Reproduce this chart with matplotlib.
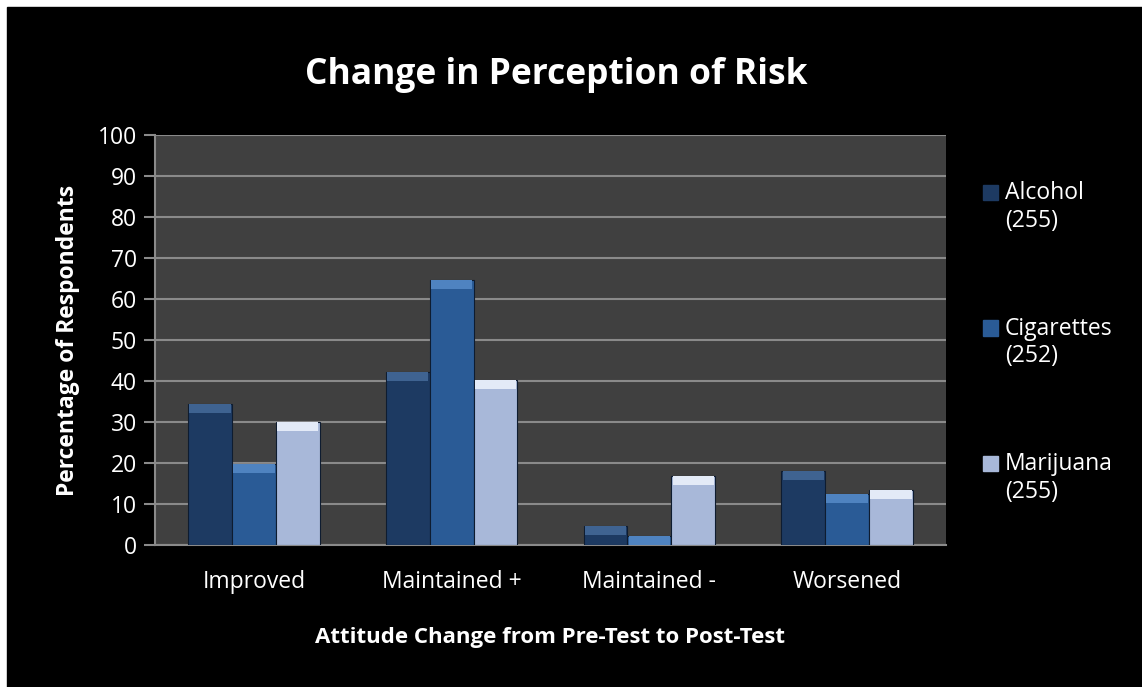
import numpy as np
import matplotlib
matplotlib.use("Agg")
import matplotlib.pyplot as plt
from matplotlib.patches import Rectangle

plt.rcParams['font.family'] = ['Open Sans', 'DejaVu Sans']

categories = ["Improved", "Maintained +", "Maintained -", "Worsened"]
series = ["Alcohol\n(255)", "Cigarettes\n(252)", "Marijuana\n(255)"]
alcohol = [34.3, 42.2, 4.7, 18.0]
cigarettes = [19.8, 64.6, 2.3, 12.4]
marijuana = [30.0, 40.2, 16.8, 13.3]

colors = ["#1d3a62", "#2a5b96", "#a8b8d9"]
tops = ["#3f6391", "#4f83c0", "#e3eaf7"]

fig = plt.figure(figsize=(11.42, 6.87), dpi=100, facecolor="white")
# black panel, white strip only at left and top
fig.patches.append(Rectangle((7 / 1142, 0), 1, (687 - 7) / 687,
                             transform=fig.transFigure, color="black", zorder=-10))

ax = fig.add_axes([155 / 1142, 1 - 545 / 687, 791 / 1142, 410 / 687])
ax.set_facecolor("#404040")

x = np.arange(len(categories))
w = 0.222
data = [alcohol, cigarettes, marijuana]
for i, vals in enumerate(data):
    pos = x + (i - 1) * w
    ax.bar(pos, vals, w, color=colors[i], edgecolor="#0e1c30", linewidth=0.8, zorder=3)
    # bevel highlight on top of each bar
    bev = [min(2.2, v) for v in vals]
    ax.bar(pos, bev, w * 0.94, bottom=np.array(vals) - np.array(bev),
           color=tops[i], linewidth=0, zorder=4)

ax.set_xlim(-0.5, 3.5)
ax.set_ylim(0, 100)
ax.set_yticks(range(0, 101, 10))
ax.yaxis.grid(True, color="#8a8a8a", linewidth=1.5, zorder=1)
ax.set_axisbelow(True)
ax.set_xticks(x)
ax.set_xticklabels(categories)
ax.tick_params(axis="x", length=0, pad=18, labelsize=16.5, labelcolor="white")
ax.tick_params(axis="y", length=8, width=1.5, color="#8a8a8a", pad=5,
               labelsize=16.5, labelcolor="white")
for s in ["top", "right"]:
    ax.spines[s].set_visible(False)
for s in ["left", "bottom"]:
    ax.spines[s].set_color("#8a8a8a")
    ax.spines[s].set_linewidth(1.5)

ax.set_ylabel("Percentage of Respondents", fontsize=16.5, fontweight="bold",
              color="white", labelpad=13)
fig.text(550 / 1142, 1 - 638 / 687, "Attitude Change from Pre-Test to Post-Test",
         ha="center", va="center", fontsize=16, fontweight="bold", color="white")
fig.text(556 / 1142, 1 - 75 / 687, "Change in Perception of Risk",
         ha="center", va="center", fontsize=25.5, fontweight="bold", color="white")

# legend
for i, lab in enumerate(series):
    y0 = 192 + i * 135.5
    fig.patches.append(Rectangle((983 / 1142, 1 - (y0 + 8) / 687), 15 / 1142, 15 / 687,
                                 transform=fig.transFigure, color=colors[i]))
    fig.text(1005 / 1142, 1 - (y0 + 15) / 687, lab, ha="left", va="center",
             fontsize=16.5, color="white", linespacing=1.2)

fig.savefig("out.png", dpi=100, facecolor=fig.get_facecolor())
